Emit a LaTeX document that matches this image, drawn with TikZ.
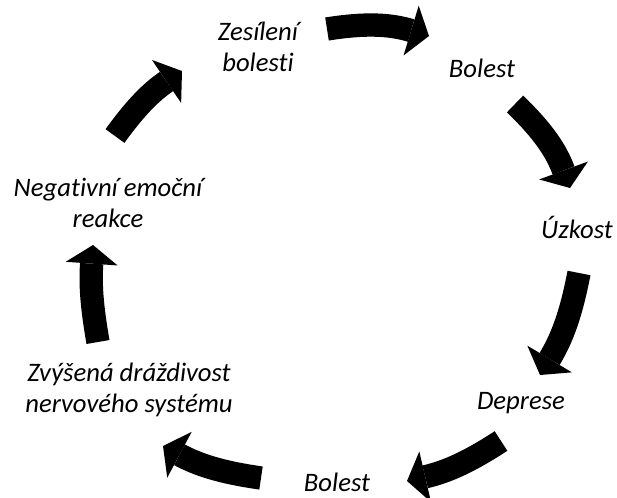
\documentclass[tikz,border=0pt]{standalone}
\usepackage{fontspec}
\setmainfont{Carlito}[Ligatures=NoCommon]
\usetikzlibrary{arrows.meta}
\tikzset{
  lbl/.style={font=\fontsize{20}{23}\selectfont\itshape, align=center, inner sep=0pt},
  bigarrow/.style={line width=17.5pt, -{Triangle[length=14pt, width=39pt, line width=0pt]}}
}

\begin{document}
\begin{tikzpicture}[x=0.75pt,y=0.75pt]
	\useasboundingbox (0,0) rectangle (617,-497);
	% labels round the cycle
	\node[lbl] (zes) at (258,-47) {Zesílení\\bolesti};
	\node[lbl, anchor=base] (bol) at (482,-77) {Bolest};
	\node[lbl, anchor=base] (uzk) at (577,-238) {Úzkost};
	\node[lbl, anchor=base] (dep) at (521,-409) {Deprese};
	\node[lbl, anchor=base] (bol2) at (337,-491) {Bolest};
	\node[lbl] (zvy) at (129,-390) {Zvýšená dráždivost\\nervového systému};
	\node[lbl] (neg) at (108,-203) {Negativní emoční\\reakce};
	% tails and tips of the block arrows
	\coordinate (t1) at (327,-29);  \coordinate (h1) at (429,-36);
	\coordinate (t2) at (515,-104); \coordinate (h2) at (570,-188);
	\coordinate (t3) at (579,-273); \coordinate (h3) at (540,-375);
	\coordinate (t4) at (501,-441); \coordinate (h4) at (407,-481);
	\coordinate (t5) at (261,-478); \coordinate (h5) at (163,-446);
	\coordinate (t6) at (98,-342);  \coordinate (h6) at (93,-245);
	\coordinate (t7) at (115,-136); \coordinate (h7) at (182,-71);
	\foreach \a/\b/\c in {t1/h1/13,t2/h2/13,t3/h3/10,t4/h4/10,t5/h5/10,t6/h6/7,t7/h7/10}
	\draw[bigarrow] (\a) to[bend left=\c] (\b);
\end{tikzpicture}
\end{document}
